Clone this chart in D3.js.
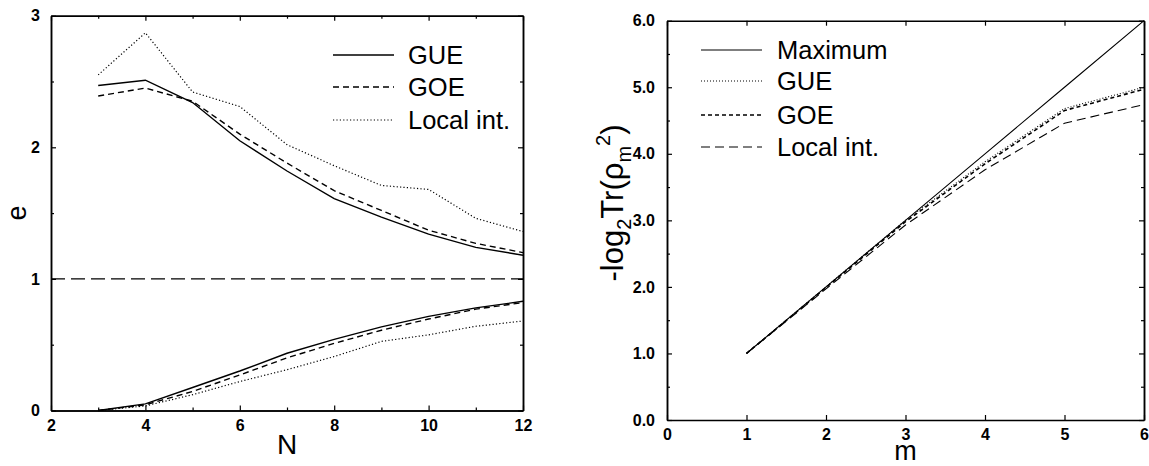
<!DOCTYPE html>
<html>
<head>
<meta charset="utf-8">
<script src="https://cdn.jsdelivr.net/npm/d3@7/dist/d3.min.js"></script>
<style>
  html, body { margin: 0; padding: 0; background: #fff; }
  svg { display: block; font-family: "Liberation Sans", Arial, Helvetica, sans-serif; }
  .tick text { font-family: "Liberation Sans", Arial, Helvetica, sans-serif;
               font-size: 16px; font-weight: bold; fill: #000; }
  .axis path, .axis line { stroke: #000; }
  .axis path { stroke-width: 1.5; }
  .axis line { stroke-width: 1.2; }
</style>
</head>
<body>
<svg id="chart" width="1149" height="466"></svg>
<script>
// Left panel: e versus N, two branches (upper / lower) per ensemble
const nVals = [3, 4, 5, 6, 7, 8, 9, 10, 11, 12];
const gueUpper   = [2.47, 2.51, 2.34, 2.05, 1.82, 1.61, 1.47, 1.34, 1.24, 1.18];
const goeUpper   = [2.39, 2.45, 2.35, 2.10, 1.88, 1.67, 1.52, 1.37, 1.27, 1.20];
const localUpper = [2.55, 2.87, 2.42, 2.31, 2.02, 1.86, 1.71, 1.68, 1.46, 1.36];
const gueLower   = [0.00, 0.05, 0.175, 0.30, 0.435, 0.54, 0.635, 0.715, 0.78, 0.83];
const goeLower   = [0.00, 0.043, 0.145, 0.27, 0.40, 0.51, 0.61, 0.695, 0.77, 0.82];
const localLower = [0.00, 0.035, 0.12, 0.22, 0.31, 0.41, 0.525, 0.575, 0.64, 0.68];
const refLevel = 1;

const nTicksMajor = [2, 4, 6, 8, 10, 12];
const nTicksMinor = [3, 5, 7, 9, 11];
const eTicksMajor = [0, 1, 2, 3];
const eTicksMinor = [0.5, 1.5, 2.5];

// Right panel: -log2 Tr(rho_m^2) versus m
const mVals = [1, 2, 3, 4, 5, 6];
const maxVals   = [1, 2, 3, 4, 5, 6];
const gueVals   = [1, 2.0, 3.0, 3.88, 4.68, 5.0];
const goeVals   = [1, 1.99, 2.98, 3.85, 4.65, 4.97];
const localVals = [1, 1.97, 2.93, 3.76, 4.46, 4.74];

const mTicks = [0, 1, 2, 3, 4, 5, 6];
const pTicksMajor = [0, 1, 2, 3, 4, 5, 6];
const pTicksMinor = [0.5, 1.5, 2.5, 3.5, 4.5, 5.5];

const svg = d3.select("#chart");

// ── helpers ──────────────────────────────
function frameAxes(g, x, y, opt) {
    const [x0, x1] = x.range();
    const [y0, y1] = y.range();
    const add = (axis, tr) => g.append("g").attr("class", "axis")
        .attr("transform", tr).call(axis);

    add(d3.axisBottom(x).tickValues(opt.xMajor).tickSize(-5).tickSizeOuter(0)
        .tickPadding(9).tickFormat(opt.xFmt), `translate(0,${y0})`);
    add(d3.axisTop(x).tickValues(opt.xMajor).tickSize(-5).tickSizeOuter(0)
        .tickFormat(""), `translate(0,${y1})`);
    if (opt.xMinor) {
        add(d3.axisBottom(x).tickValues(opt.xMinor).tickSize(-3).tickSizeOuter(0)
            .tickFormat(""), `translate(0,${y0})`);
        add(d3.axisTop(x).tickValues(opt.xMinor).tickSize(-3).tickSizeOuter(0)
            .tickFormat(""), `translate(0,${y1})`);
    }
    add(d3.axisLeft(y).tickValues(opt.yMajor).tickSize(-5).tickSizeOuter(0)
        .tickPadding(opt.yPad).tickFormat(opt.yFmt), `translate(${x0},0)`);
    add(d3.axisRight(y).tickValues(opt.yMajor).tickSize(-5).tickSizeOuter(0)
        .tickFormat(""), `translate(${x1},0)`);
    add(d3.axisLeft(y).tickValues(opt.yMinor).tickSize(-3).tickSizeOuter(0)
        .tickFormat(""), `translate(${x0},0)`);
    add(d3.axisRight(y).tickValues(opt.yMinor).tickSize(-3).tickSizeOuter(0)
        .tickFormat(""), `translate(${x1},0)`);
}

function drawSeries(g, x, y, xs, ys, style) {
    const line = d3.line().x((d, i) => x(xs[i])).y(d => y(d));
    g.append("path")
        .datum(ys)
        .attr("fill", "none")
        .attr("stroke", "#000")
        .attr("stroke-width", style.width)
        .attr("stroke-dasharray", style.dash || null)
        .attr("d", line);
}

function legend(g, items, lx0, lx1, tx, ys) {
    items.forEach((it, i) => {
        g.append("line")
            .attr("x1", lx0).attr("x2", lx1)
            .attr("y1", ys[i]).attr("y2", ys[i])
            .attr("stroke", "#000")
            .attr("stroke-width", it.style.width)
            .attr("stroke-dasharray", it.style.dash || null);
        g.append("text")
            .attr("x", tx).attr("y", ys[i] + 9)
            .attr("font-size", 25.5)
            .text(it.label);
    });
}

// ── left panel ───────────────────────────
const xL = d3.scaleLinear().domain([2, 12]).range([51, 523]);
const yL = d3.scaleLinear().domain([0, 3]).range([410.5, 15.7]);
const gL = svg.append("g");

const sGue   = { width: 1.4 };
const sGoe   = { width: 1.4, dash: "6,4" };
const sLocal = { width: 1.2, dash: "1.2,2.2" };

gL.append("line")
    .attr("x1", xL(2)).attr("x2", xL(12))
    .attr("y1", yL(refLevel)).attr("y2", yL(refLevel))
    .attr("stroke", "#000").attr("stroke-width", 1.3)
    .attr("stroke-dasharray", "14,6");

drawSeries(gL, xL, yL, nVals, gueUpper, sGue);
drawSeries(gL, xL, yL, nVals, goeUpper, sGoe);
drawSeries(gL, xL, yL, nVals, localUpper, sLocal);
drawSeries(gL, xL, yL, nVals, gueLower, sGue);
drawSeries(gL, xL, yL, nVals, goeLower, sGoe);
drawSeries(gL, xL, yL, nVals, localLower, sLocal);

frameAxes(gL, xL, yL, {
    xMajor: nTicksMajor, xMinor: nTicksMinor, xFmt: d3.format("d"),
    yMajor: eTicksMajor, yMinor: eTicksMinor, yFmt: d3.format("d"), yPad: 11
});

legend(gL, [
    { label: "GUE", style: sGue },
    { label: "GOE", style: sGoe },
    { label: "Local int.", style: sLocal }
], 333, 394, 408, [55, 87, 120]);

gL.append("text")
    .attr("x", (xL(2) + xL(12)) / 2).attr("y", 454)
    .attr("text-anchor", "middle").attr("font-size", 28)
    .text("N");

gL.append("text")
    .attr("transform", `translate(26,${(yL(0) + yL(3)) / 2}) rotate(-90)`)
    .attr("text-anchor", "middle").attr("font-size", 27)
    .text("e");

// ── right panel ──────────────────────────
const xR = d3.scaleLinear().domain([0, 6]).range([667, 1144]);
const yR = d3.scaleLinear().domain([0, 6]).range([420, 20.7]);
const gR = svg.append("g");

const rMax   = { width: 1.1 };
const rGue   = { width: 1.1, dash: "1,2" };
const rGoe   = { width: 1.6, dash: "4,3" };
const rLocal = { width: 1.1, dash: "9,5" };

drawSeries(gR, xR, yR, mVals, maxVals, rMax);
drawSeries(gR, xR, yR, mVals, gueVals, rGue);
drawSeries(gR, xR, yR, mVals, goeVals, rGoe);
drawSeries(gR, xR, yR, mVals, localVals, rLocal);

frameAxes(gR, xR, yR, {
    xMajor: mTicks, xMinor: null, xFmt: d3.format("d"),
    yMajor: pTicksMajor, yMinor: pTicksMinor, yFmt: d3.format(".1f"), yPad: 12
});

legend(gR, [
    { label: "Maximum", style: rMax },
    { label: "GUE", style: rGue },
    { label: "GOE", style: rGoe },
    { label: "Local int.", style: rLocal }
], 701, 762, 777, [50, 81, 115, 147]);

gR.append("text")
    .attr("x", (xR(0) + xR(6)) / 2).attr("y", 460)
    .attr("text-anchor", "middle").attr("font-size", 27)
    .text("m");

const yLab = gR.append("text")
    .attr("transform", `translate(623,203) rotate(-90)`)
    .attr("text-anchor", "middle").attr("font-size", 31);
yLab.append("tspan").text("-log");
yLab.append("tspan").attr("font-size", 20).attr("dy", 8).text("2");
yLab.append("tspan").attr("dy", -8).text("Tr(ρ");
yLab.append("tspan").attr("font-size", 20).attr("dy", 8).text("m");
yLab.append("tspan").attr("font-size", 20).attr("dy", -21).text("2");
yLab.append("tspan").attr("dy", 13).text(")");
</script>
</body>
</html>
